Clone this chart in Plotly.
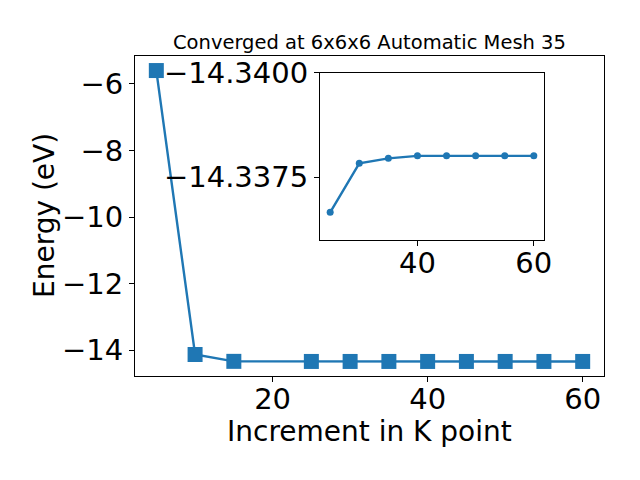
import plotly.graph_objects as go

# Main convergence data
kpoints = [5, 10, 15, 25, 30, 35, 40, 45, 50, 55, 60]
energy = [-5.60, -14.13, -14.335, -14.338, -14.338, -14.338, -14.338, -14.338, -14.338, -14.338, -14.338]

# Inset (zoomed) data
inset_k = [25, 30, 35, 40, 45, 50, 55, 60]
inset_e = [-14.33666, -14.33783, -14.33795, -14.33801, -14.33801, -14.33801, -14.33801, -14.33801]

main_yticks = [-6, -8, -10, -12, -14]
main_xticks = [20, 40, 60]
inset_yticks = [-14.34, -14.3375]
inset_xticks = [40, 60]

title_text = "Converged at 6x6x6 Automatic Mesh 35"
xlabel = "Increment in K point"
ylabel = "Energy (eV)"

C = "#1f77b4"
FONT = "DejaVu Sans"

fig = go.Figure()
fig.add_trace(go.Scatter(x=kpoints, y=energy, mode="lines+markers",
                         line=dict(color=C, width=2.4),
                         marker=dict(symbol="square", size=15, color=C),
                         xaxis="x", yaxis="y", showlegend=False))
fig.add_trace(go.Scatter(x=inset_k, y=inset_e, mode="lines+markers",
                         line=dict(color=C, width=2.4),
                         marker=dict(symbol="circle", size=7, color=C),
                         xaxis="x2", yaxis="y2", showlegend=False))

axcommon = dict(showline=True, linecolor="black", linewidth=1, mirror=True,
                ticks="outside", ticklen=5, tickwidth=1, tickcolor="black",
                showgrid=False, zeroline=False, automargin=False,
                tickfont=dict(family=FONT, size=29, color="black"))

fig.update_layout(
    width=640, height=480,
    margin=dict(l=0, r=0, t=0, b=0, pad=0),
    paper_bgcolor="white", plot_bgcolor="white",
    font=dict(family=FONT, color="black"),
    xaxis=dict(domain=[135/640, 604/640], range=[2.25, 62.75],
               tickvals=main_xticks, anchor="y", ticklabelstandoff=-8, **axcommon),
    yaxis=dict(domain=[1-376/480, 1-56/480], range=[-14.7751, -5.1629],
               tickvals=main_yticks, anchor="x", **axcommon),
    xaxis2=dict(domain=[320/640, 544/640], range=[23.25, 61.75],
                tickvals=inset_xticks, anchor="y2", ticklabelstandoff=-8, **axcommon),
    yaxis2=dict(domain=[1-240/480, 1-72.5/480], range=[-14.336, -14.340],
                tickvals=inset_yticks, tickformat=".4f", anchor="x2", **axcommon),
    annotations=[
        dict(text=title_text, x=369.5/640, y=1-42/480, xref="paper", yref="paper",
             showarrow=False, xanchor="center", yanchor="middle",
             font=dict(family=FONT, size=19.5, color="black")),
        dict(text=xlabel, x=369.5/640, y=1-431/480, xref="paper", yref="paper",
             showarrow=False, xanchor="center", yanchor="middle",
             font=dict(family=FONT, size=28, color="black")),
        dict(text=ylabel, x=45/640, y=1-216/480, xref="paper", yref="paper",
             showarrow=False, xanchor="center", yanchor="middle", textangle=-90,
             font=dict(family=FONT, size=28, color="black")),
    ],
)

fig.write_html("out.html", config={"displayModeBar": False},
               post_script="document.body.style.margin='0px';document.body.style.overflow='hidden';")
